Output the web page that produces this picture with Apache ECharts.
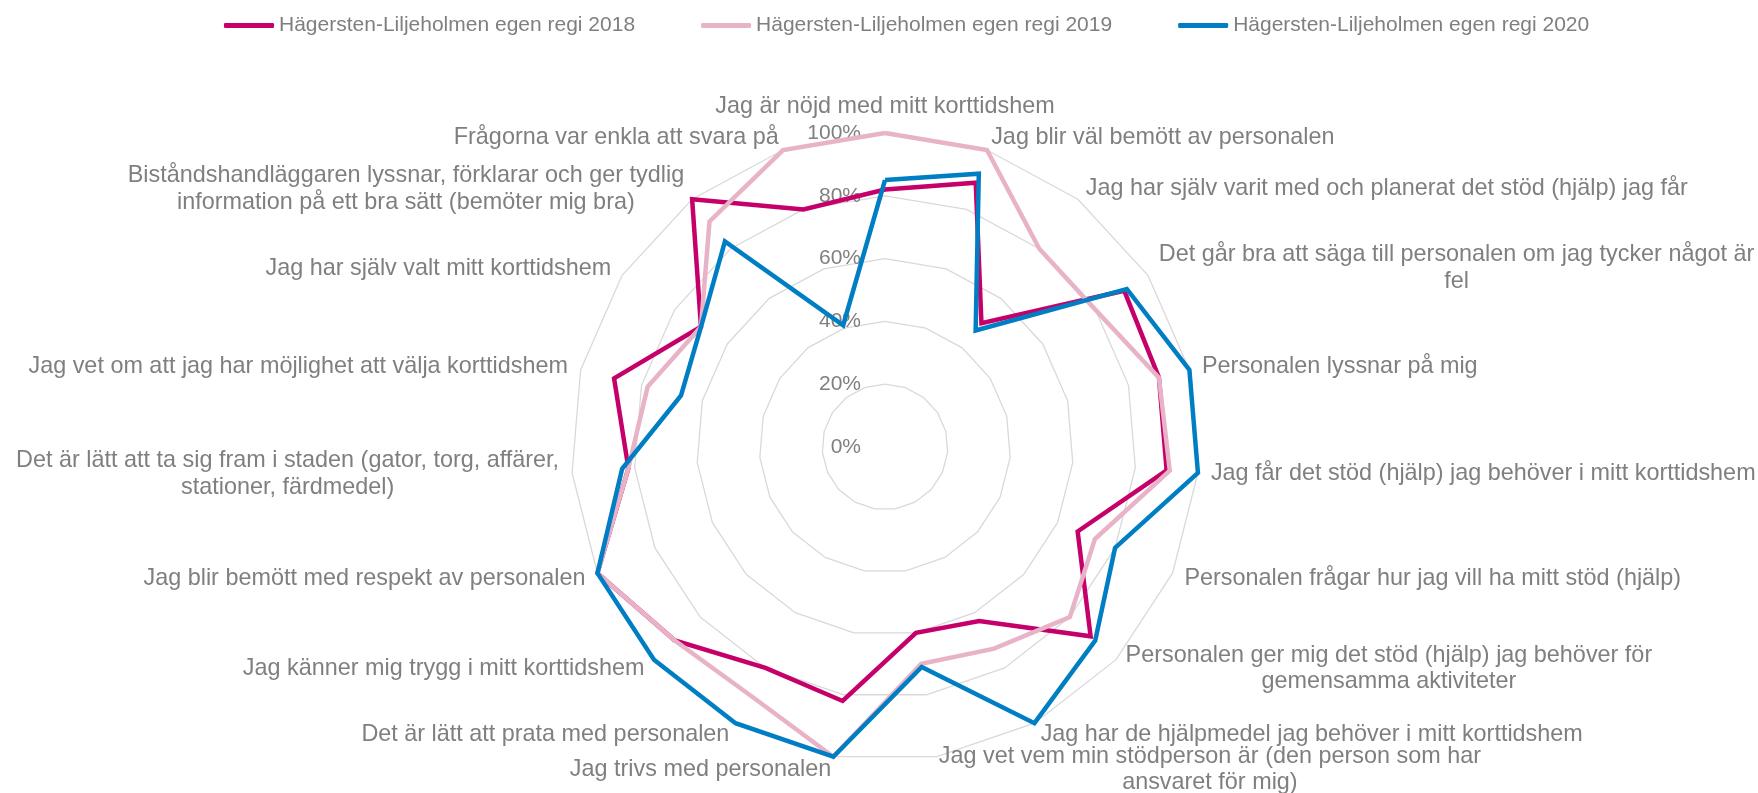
<!DOCTYPE html>
<html>
<head>
<meta charset="utf-8">
<title>Hägersten-Liljeholmen egen regi</title>
<script src="https://cdn.jsdelivr.net/npm/echarts@6/dist/echarts.min.js"></script>
<style>
    html, body { margin: 0; padding: 0; background: #fff; }
    #radarChart { width: 1758px; height: 793px; }
</style>
</head>
<body>
<div id="radarChart"></div>
<script type="text/javascript">
    // frågor, medurs från toppen
    var categories = [
        'Jag är nöjd med mitt korttidshem',
        'Jag blir väl bemött av personalen',
        'Jag har själv varit med och planerat det stöd (hjälp) jag får',
        'Det går bra att säga till personalen om jag tycker något är\nfel',
        'Personalen lyssnar på mig',
        'Jag får det stöd (hjälp) jag behöver i mitt korttidshem',
        'Personalen frågar hur jag vill ha mitt stöd (hjälp)',
        'Personalen ger mig det stöd (hjälp) jag behöver för\ngemensamma aktiviteter',
        'Jag har de hjälpmedel jag behöver i mitt korttidshem',
        'Jag vet vem min stödperson är (den person som har\nansvaret för mig)',
        'Jag trivs med personalen',
        'Det är lätt att prata med personalen',
        'Jag känner mig trygg i mitt korttidshem',
        'Jag blir bemött med respekt av personalen',
        'Det är lätt att ta sig fram i staden (gator, torg, affärer,\nstationer, färdmedel)',
        'Jag vet om att jag har möjlighet att välja korttidshem',
        'Jag har själv valt mitt korttidshem',
        'Biståndshandläggaren lyssnar, förklarar och ger tydlig\ninformation på ett bra sätt (bemöter mig bra)',
        'Frågorna var enkla att svara på'
    ];
    var seriesNames = [
        'Hägersten-Liljeholmen egen regi 2018',
        'Hägersten-Liljeholmen egen regi 2019',
        'Hägersten-Liljeholmen egen regi 2020'
    ];
    var values2018 = [82, 89, 50, 91, 90, 90, 67, 89, 63, 60, 82, 80, 91, 100, 82, 89, 70, 100, 80];
    var values2019 = [100, 100, 80, 80, 90, 91, 73, 80, 73, 70, 100, 90, 91, 100, 82, 78, 70, 91, 100];
    var values2020 = [85, 92, 47, 92, 100, 100, 80, 91, 100, 71, 100, 100, 100, 100, 84, 67, 70, 83, 41];
    var tickValues = [0, 20, 40, 60, 80, 100];

    var colors = ['#c6006a', '#e8b3c7', '#007ec4'];
    var textColor = '#7f7f7f';
    var fontFamily = '"Liberation Sans", Arial, sans-serif';

    // echarts ritar radarn moturs, så vi vänder ordningen (första kvar överst)
    function clockwise(arr) {
        return [arr[0]].concat(arr.slice(1).reverse());
    }

    var radarChart = echarts.init(document.getElementById('radarChart'));

    var indicator = clockwise(categories).map(function (name, i) {
        var item = {name: name, min: tickValues[0], max: tickValues[tickValues.length - 1]};
        if (i === 0) {
            item.axisLabel = {show: true}; // bara första axeln har procenttal
        }
        return item;
    });

    var option = {
        animation: false,
        color: colors,
        textStyle: {fontFamily: fontFamily},
        legend: {
            left: 219,
            top: 10,
            itemWidth: 50,
            itemHeight: 5,
            itemGap: 66,
            icon: 'roundRect',
            textStyle: {color: textColor, fontSize: 21, fontFamily: fontFamily},
            data: seriesNames
        },
        radar: {
            center: [885, 447],
            radius: 314,
            startAngle: 90,
            splitNumber: tickValues.length - 1,
            shape: 'polygon',
            nameGap: 13,
            indicator: indicator,
            axisName: {
                color: textColor,
                fontSize: 23.4,
                fontFamily: fontFamily,
                formatter: function (name) {
                    return name.split('\n').map(function (s) {
                        return '{c|' + s + '}';
                    }).join('\n');
                },
                rich: {
                    c: {align: 'center', color: textColor, fontSize: 23.4, fontFamily: fontFamily, lineHeight: 26.5}
                }
            },
            axisLine: {show: false},
            axisTick: {show: false},
            splitArea: {show: false},
            splitLine: {lineStyle: {color: '#d9d9d9', width: 1.3}},
            axisLabel: {
                show: false,
                formatter: '{value}%',
                color: textColor,
                fontSize: 21,
                fontFamily: fontFamily,
                margin: 24
            }
        },
        series: [{
            type: 'radar',
            symbol: 'none',
            lineStyle: {width: 4.5, join: 'miter'},
            data: [
                {name: seriesNames[0], value: clockwise(values2018), lineStyle: {color: colors[0]}},
                {name: seriesNames[1], value: clockwise(values2019), lineStyle: {color: colors[1]}},
                {name: seriesNames[2], value: clockwise(values2020), lineStyle: {color: colors[2]}}
            ]
        }]
    };
    radarChart.setOption(option);
</script>
</body>
</html>
